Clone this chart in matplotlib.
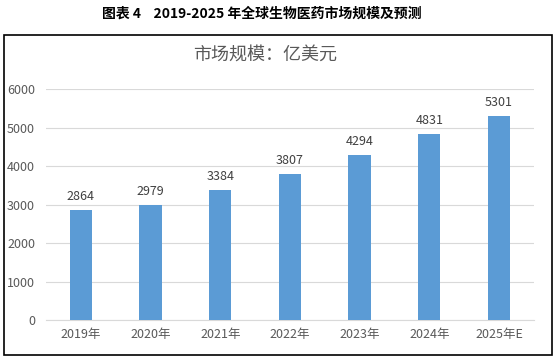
import matplotlib
matplotlib.use('Agg')
import matplotlib.pyplot as plt
from matplotlib.patches import Rectangle

plt.rcParams['font.family'] = ['Noto Sans CJK SC', 'DejaVu Sans']

years = ['2019年', '2020年', '2021年', '2022年', '2023年', '2024年', '2025年E']
marketSize = [2864, 2979, 3384, 3807, 4294, 4831, 5301]
yTicks = [0, 1000, 2000, 3000, 4000, 5000, 6000]

fig = plt.figure(figsize=(5.56, 3.58), dpi=100)
ax = fig.add_axes([0.083, 0.106, 0.877, 0.645])

# outer frame around the chart
fig.patches.append(Rectangle((4 / 556, 1 - 355 / 358), 548 / 556, 320 / 358,
                             transform=fig.transFigure, fill=False,
                             edgecolor='black', linewidth=1.2))

bars = ax.bar(range(len(years)), marketSize, width=0.32, color='#5B9BD5', zorder=3)
for b, v in zip(bars, marketSize):
    ax.annotate(str(v), (b.get_x() + b.get_width() / 2, v), xytext=(0, 5),
                textcoords='offset points', ha='center', va='bottom',
                fontsize=9, color='#404040')

ax.set_xlim(-0.5, len(years) - 0.5)
ax.set_ylim(0, 6000)
ax.set_yticks(yTicks)
ax.set_xticks(range(len(years)))
ax.set_xticklabels(years)
ax.yaxis.grid(True, color='#D9D9D9', linewidth=0.8, zorder=0)
for s in ['top', 'right', 'left']:
    ax.spines[s].set_visible(False)
ax.spines['bottom'].set_color('#D9D9D9')
ax.tick_params(length=0, labelsize=9, labelcolor='#595959', pad=6)
ax.tick_params(axis='y', pad=8)

fig.text(0.477, 1 - 55 / 358, '市场规模：亿美元', ha='center', va='center',
         fontsize=13, color='#595959')
fig.text(0.471, 1 - 14 / 358, '图表 4    2019-2025 年全球生物医药市场规模及预测',
         ha='center', va='center', fontsize=10, fontweight='bold', color='black')

fig.savefig('out.png', dpi=100)
